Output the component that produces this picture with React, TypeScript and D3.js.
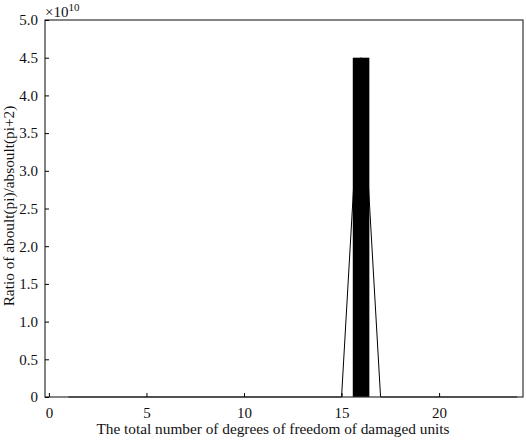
import React, { useEffect, useRef } from 'react';
import * as d3 from 'd3';

// damaged-unit degrees of freedom and the ratio
const dofs = [1, 2, 3, 4, 5, 6, 7, 8, 9, 10, 11, 12, 13, 14, 15, 16, 17, 18, 19, 20, 21, 22, 23, 24];
const ratio = [0, 0, 0, 0, 0, 0, 0, 0, 0, 0, 0, 0, 0, 0, 0, 4.5e10, 0, 0, 0, 0, 0, 0, 0, 0];
const xTicks = [0, 5, 10, 15, 20];
const yTicks = [0, 0.5e10, 1e10, 1.5e10, 2e10, 2.5e10, 3e10, 3.5e10, 4e10, 4.5e10, 5e10];

export default function App() {
    const ref = useRef<SVGSVGElement>(null);

    useEffect(() => {
        const w = 526;
        const h = 441;
        const margin = { top: 20, right: 3, bottom: 44, left: 45 };
        const font = '"Liberation Serif", "Times New Roman", serif';
        const barWidth = 0.85;

        const svg = d3.select(ref.current);
        svg.selectAll('*').remove();

        const x = d3.scaleLinear()
            .domain([-0.2, 24.3])
            .range([margin.left, w - margin.right]);

        const y = d3.scaleLinear()
            .domain([0, 5e10])
            .range([h - margin.bottom, margin.top]);

        const data = dofs.map((d, i) => ({ dof: d, value: ratio[i] }));

        // bars
        svg.append('g')
            .selectAll('rect')
            .data(data)
            .join('rect')
            .attr('x', d => x(d.dof - barWidth / 2))
            .attr('y', d => y(d.value))
            .attr('width', x(barWidth) - x(0))
            .attr('height', d => y(0) - y(d.value))
            .attr('fill', 'black');

        // line over the bars
        const line = d3.line<{ dof: number, value: number }>()
            .x(d => x(d.dof))
            .y(d => y(d.value));

        svg.append('path')
            .datum(data)
            .attr('d', line)
            .attr('fill', 'none')
            .attr('stroke', 'black')
            .attr('stroke-width', 1);

        // box
        svg.append('rect')
            .attr('x', margin.left)
            .attr('y', margin.top)
            .attr('width', w - margin.left - margin.right)
            .attr('height', h - margin.top - margin.bottom)
            .attr('fill', 'none')
            .attr('stroke', '#333')
            .attr('stroke-width', 1.2);

        const xAxis = (g: any) => g
            .attr('transform', `translate(0,${h - margin.bottom})`)
            .call(d3.axisBottom(x).tickValues(xTicks).tickSize(-4).tickPadding(10).tickFormat(d3.format('d')))
            .call((g: any) => g.select('.domain').remove())
            .call((g: any) => g.selectAll('text').attr('font-size', 15).attr('font-family', font).attr('fill', '#111'));

        const yAxis = (g: any) => g
            .attr('transform', `translate(${margin.left},0)`)
            .call(d3.axisLeft(y).tickValues(yTicks).tickSize(-4).tickPadding(7)
                .tickFormat((d: any) => d === 0 ? '0' : (d / 1e10).toFixed(1)))
            .call((g: any) => g.select('.domain').remove())
            .call((g: any) => g.selectAll('text').attr('font-size', 15).attr('font-family', font).attr('fill', '#111'));

        svg.append('g').call(xAxis);
        svg.append('g').call(yAxis);

        // exponent
        const exp = svg.append('text')
            .attr('x', margin.left)
            .attr('y', 17)
            .attr('font-family', font)
            .attr('font-size', 15)
            .attr('fill', '#111');
        exp.append('tspan').text('×10');
        exp.append('tspan').attr('dy', -6).attr('font-size', 11).text('10');

        svg.append('text')
            .attr('x', 273)
            .attr('y', 434)
            .attr('text-anchor', 'middle')
            .attr('font-family', font)
            .attr('font-size', 15.3)
            .attr('fill', '#111')
            .text('The total number of degrees of freedom of damaged units');

        svg.append('text')
            .attr('transform', `translate(14,${206}) rotate(-90)`)
            .attr('text-anchor', 'middle')
            .attr('font-family', font)
            .attr('font-size', 15.3)
            .attr('fill', '#111')
            .text('Ratio of aboult(pi)/absoult(pi+2)');
    }, []);

    return (
        <svg ref={ref} width={526} height={441}
            style={{ position: 'absolute', left: 0, top: 0, background: 'white' }} />
    );
}
